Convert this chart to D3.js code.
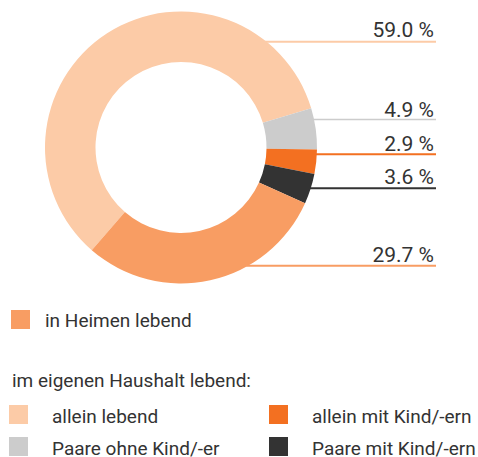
<!DOCTYPE html>
<html>
<head>
<meta charset="utf-8">
<script src="https://cdn.jsdelivr.net/npm/d3@7"></script>
<style>
  html, body { margin: 0; padding: 0; background: #fff; }
  svg { display: block; }
  text { font-family: Roboto, "Noto Sans", sans-serif; fill: #333; }
</style>
</head>
<body>
<svg id="chart" width="478" height="457"></svg>
<script>
// ---- data ----
const categories = ["allein lebend", "Paare ohne Kind/-er", "allein mit Kind/-ern", "Paare mit Kind/-ern", "in Heimen lebend"];
const values = [59.0, 4.9, 2.9, 3.6, 29.7];
const valueLabels = ["59.0 %", "4.9 %", "2.9 %", "3.6 %", "29.7 %"];
const colors = ["#FCCBA7", "#CCCCCC", "#F37021", "#333333", "#F89D63"];
const legendHeader = "im eigenen Haushalt lebend:";

// ---- layout ----
const W = 478, H = 457;
const cx = 181, cy = 147.5, R = 136, r = 85.5;
const lineY = [41.7, 119.5, 154.3, 188.3, 265.7];
const textY = [36.7, 117, 150.7, 184.3, 262.3];
const lineEnd = 436;

const svg = d3.select("#chart");

// leader lines (behind donut, start at outer edge)
const leaders = svg.append("g");
values.forEach((v, i) => {
  const dy = lineY[i] - cy;
  const x0 = cx + Math.sqrt(Math.max(0, R * R - dy * dy)) - 2;
  leaders.append("line")
    .attr("x1", x0).attr("x2", lineEnd)
    .attr("y1", lineY[i]).attr("y2", lineY[i])
    .attr("stroke", colors[i])
    .attr("stroke-width", i === 1 ? 1.6 : 2);
  leaders.append("text")
    .attr("x", 434).attr("y", textY[i])
    .attr("text-anchor", "end")
    .attr("font-size", 21)
    .text(valueLabels[i]);
});

// donut
const pie = d3.pie().sort(null).value(d => d)
  .startAngle(-139 * Math.PI / 180)
  .endAngle((360 - 139) * Math.PI / 180);
const arc = d3.arc().innerRadius(r).outerRadius(R);
svg.append("g")
  .attr("transform", `translate(${cx},${cy})`)
  .selectAll("path")
  .data(pie(values))
  .join("path")
  .attr("d", arc)
  .attr("fill", (d, i) => colors[i]);

// legend
const lg = svg.append("g");
// in Heimen lebend (index 4)
lg.append("rect").attr("x", 11).attr("y", 310).attr("width", 19).attr("height", 19).attr("fill", colors[4]);
lg.append("text").attr("x", 45).attr("y", 327).attr("font-size", 19).text(categories[4]);

lg.append("text").attr("x", 12).attr("y", 387).attr("font-size", 19).text(legendHeader);

const legendItems = [
  { idx: 0, x: 9, y: 405, tx: 52, ty: 423 },
  { idx: 2, x: 269, y: 405, tx: 312, ty: 423 },
  { idx: 1, x: 9, y: 437, tx: 52, ty: 455 },
  { idx: 3, x: 269, y: 437, tx: 312, ty: 455 }
];
legendItems.forEach(it => {
  lg.append("rect").attr("x", it.x).attr("y", it.y).attr("width", 19).attr("height", 19).attr("fill", colors[it.idx]);
  lg.append("text").attr("x", it.tx).attr("y", it.ty).attr("font-size", 19).text(categories[it.idx]);
});
</script>
</body>
</html>
